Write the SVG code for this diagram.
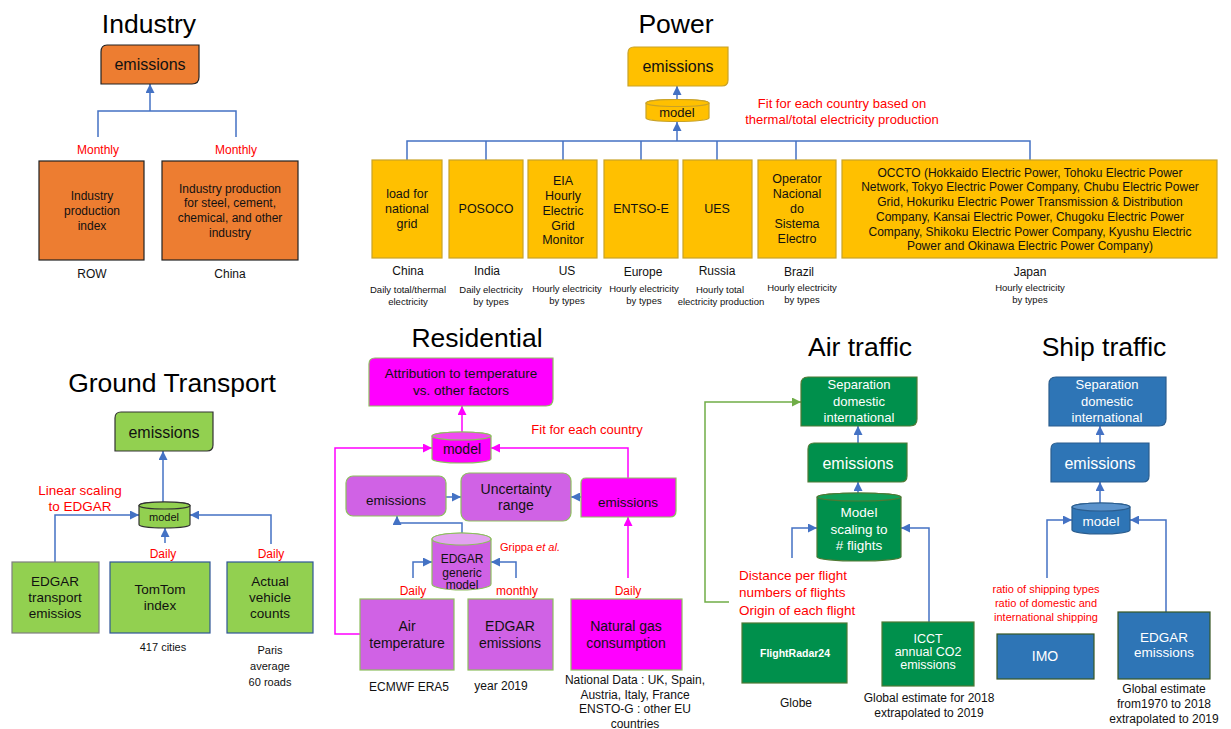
<svg xmlns="http://www.w3.org/2000/svg" width="1231" height="729" viewBox="0 0 1231 729">
<defs>
<marker id="ab" viewBox="0 0 10 10" refX="10" refY="5" markerWidth="9" markerHeight="9" markerUnits="userSpaceOnUse" orient="auto"><path d="M0,0 L10,5 L0,10 z" fill="#4472C4"/></marker>
<marker id="am" viewBox="0 0 10 10" refX="10" refY="5" markerWidth="9" markerHeight="9" markerUnits="userSpaceOnUse" orient="auto"><path d="M0,0 L10,5 L0,10 z" fill="#FF00FF"/></marker>
<marker id="ag" viewBox="0 0 10 10" refX="10" refY="5" markerWidth="9" markerHeight="9" markerUnits="userSpaceOnUse" orient="auto"><path d="M0,0 L10,5 L0,10 z" fill="#70AD47"/></marker>
</defs>
<style>
text{font-family:"Liberation Sans",Arial,Helvetica,sans-serif;text-anchor:middle;fill:#111}
.title{font-size:26.5px;fill:#000}
.red{fill:#FF0000}
.w{fill:#fff}
.c{stroke:#4472C4;stroke-width:1.5;fill:none}
.cm{stroke:#FF00FF;stroke-width:1.5;fill:none}
.cg{stroke:#70AD47;stroke-width:1.5;fill:none}
.ind{fill:#ED7D31;stroke:#222;stroke-width:1.2}
.pow{fill:#FFC000;stroke:#C9A227;stroke-width:1.2}
.gt{fill:#92D050;stroke:#333;stroke-width:1.2}
.gtb{fill:#92D050;stroke:#2F5597;stroke-width:1.2}
.gtg{fill:#92D050;stroke:#7F7F7F;stroke-width:1.2}
.vio{fill:#D062E5;stroke:#8DBF5E;stroke-width:1.2}
.mag{fill:#FF00FF;stroke:#8DBF5E;stroke-width:1.2}
.air{fill:#00904C;stroke:#4E7A34;stroke-width:1.2}
.shp{fill:#2E75B6;stroke:#2A5D8E;stroke-width:1.2}
.shpg{fill:#2E75B6;stroke:#385723;stroke-width:1.2}
.s16{font-size:16px}
.s14{font-size:14px}
.s135{font-size:13.5px}
.s13{font-size:13px}
.s12{font-size:12px}
.s125{font-size:12.5px}
.s11{font-size:11px}
.s95{font-size:9.5px}
</style>

<!-- Titles -->
<g id="titles">
<text class="title" x="149" y="33">Industry</text>
<text class="title" x="676" y="33">Power</text>
<text class="title" x="172" y="392">Ground Transport</text>
<text class="title" x="477" y="347">Residential</text>
<text class="title" x="860" y="356">Air traffic</text>
<text class="title" x="1104" y="356">Ship traffic</text>
</g>

<g id="connectors">
<!-- Industry -->
<path class="c" d="M98,137 V111 H236 V137"/>
<path class="c" d="M150,111 V84" marker-end="url(#ab)"/>
<!-- Power -->
<path class="c" d="M407,160 V141 H1030 V160"/>
<path class="c" d="M486,160 V141 M563,160 V141 M641,160 V141 M717,160 V141 M796,160 V141"/>
<path class="c" d="M677,141 V122" marker-end="url(#ab)"/>
<path class="c" d="M677,100 V86" marker-end="url(#ab)"/>
<!-- Ground transport -->
<path class="c" d="M163,502 V451" marker-end="url(#ab)"/>
<path class="c" d="M55,562 V515 H139" marker-end="url(#ab)"/>
<path class="c" d="M165,543 V528" marker-end="url(#ab)"/>
<path class="c" d="M271,544 V515 H190" marker-end="url(#ab)"/>
<!-- Residential -->
<path class="cm" d="M462,432 V406" marker-end="url(#am)"/>
<path class="cm" d="M360,634 H335 V448 H432" marker-end="url(#am)"/>
<path class="cm" d="M628,478 V448 H491" marker-end="url(#am)"/>
<path class="cm" d="M628,578 V517" marker-end="url(#am)"/>
<path class="c" d="M446,497 H461" marker-end="url(#ab)"/>
<path class="c" d="M581,497 H571" marker-end="url(#ab)"/>
<path class="c" d="M462,533 V523 H397 V516" marker-end="url(#ab)"/>
<path class="c" d="M413,578 V562 H432" marker-end="url(#ab)"/>
<path class="c" d="M516,578 V562 H491" marker-end="url(#ab)"/>
<!-- Air -->
<path class="c" d="M858,443 V426" marker-end="url(#ab)"/>
<path class="c" d="M858,494 V482" marker-end="url(#ab)"/>
<path class="c" d="M792,558 V528 H817" marker-end="url(#ab)"/>
<path class="c" d="M929,622 V528 H901" marker-end="url(#ab)"/>
<path class="cg" d="M729,602 H705 V402 H801" marker-end="url(#ag)"/>
<!-- Ship -->
<path class="c" d="M1100,443 V426" marker-end="url(#ab)"/>
<path class="c" d="M1100,503 V482" marker-end="url(#ab)"/>
<path class="c" d="M1047,578 V520 H1072" marker-end="url(#ab)"/>
<path class="c" d="M1166,612 V520 H1130" marker-end="url(#ab)"/>
</g>

<!-- ===== Industry ===== -->
<g id="ind-emissions">
<path class="ind" d="M107,45 H199 V77 Q199,84 192,84 H101 V52 Q101,45 107,45 Z"/>
<text class="s16" x="150" y="70">emissions</text>
</g>
<g id="ind-row">
<rect class="ind" x="39" y="161" width="105" height="99"/>
<text class="s12" x="92" y="200">Industry</text>
<text class="s12" x="92" y="215">production</text>
<text class="s12" x="92" y="230">index</text>
</g>
<g id="ind-china">
<rect class="ind" x="162" y="161" width="136" height="99"/>
<text class="s12" x="230" y="193">Industry production</text>
<text class="s12" x="230" y="207">for steel, cement,</text>
<text class="s12" x="230" y="222">chemical, and other</text>
<text class="s12" x="230" y="237">industry</text>
</g>
<g id="ind-labels">
<text class="s12 red" x="98" y="154">Monthly</text>
<text class="s12 red" x="236" y="154">Monthly</text>
<text class="s12" x="92" y="278">ROW</text>
<text class="s12" x="230" y="278">China</text>
</g>

<!-- ===== Power ===== -->
<g id="pow-emissions">
<path class="pow" d="M634,47 H728 V80 Q728,86 722,86 H628 V53 Q628,47 634,47 Z"/>
<text class="s16" x="678" y="72">emissions</text>
</g>
<g id="pow-model">
<path class="pow" d="M646,103 A31.5,3.5 0 0 1 709,103 V118 A31.5,3.5 0 0 1 646,118 Z"/>
<ellipse class="pow" cx="677.5" cy="103" rx="31.5" ry="3.5"/>
<text class="s13" x="677" y="117">model</text>
</g>
<g id="pow-china">
<rect class="pow" x="372" y="160" width="70" height="98"/>
<text class="s125" x="407" y="198">load for</text>
<text class="s125" x="407" y="213">national</text>
<text class="s125" x="407" y="228">grid</text>
</g>
<g id="pow-india">
<rect class="pow" x="449" y="160" width="74" height="98"/>
<text class="s125" x="486" y="213">POSOCO</text>
</g>
<g id="pow-us">
<rect class="pow" x="528" y="160" width="69" height="98"/>
<text class="s125" x="563" y="185">EIA</text>
<text class="s125" x="563" y="200">Hourly</text>
<text class="s125" x="563" y="215">Electric</text>
<text class="s125" x="563" y="230">Grid</text>
<text class="s125" x="563" y="244">Monitor</text>
</g>
<g id="pow-europe">
<rect class="pow" x="604" y="160" width="74" height="98"/>
<text class="s125" x="641" y="213">ENTSO-E</text>
</g>
<g id="pow-russia">
<rect class="pow" x="683" y="160" width="69" height="98"/>
<text class="s125" x="717" y="213">UES</text>
</g>
<g id="pow-brazil">
<rect class="pow" x="758" y="160" width="78" height="98"/>
<text class="s125" x="797" y="183">Operator</text>
<text class="s125" x="797" y="198">Nacional</text>
<text class="s125" x="797" y="213">do</text>
<text class="s125" x="797" y="228">Sistema</text>
<text class="s125" x="797" y="243">Electro</text>
</g>
<g id="pow-japan">
<rect class="pow" x="842" y="160" width="375" height="98"/>
<text class="s12" x="1030" y="177">OCCTO (Hokkaido Electric Power, Tohoku Electric Power</text>
<text class="s12" x="1030" y="191">Network, Tokyo Electric Power Company, Chubu Electric Power</text>
<text class="s12" x="1030" y="206">Grid, Hokuriku Electric Power Transmission &amp; Distribution</text>
<text class="s12" x="1030" y="221">Company, Kansai Electric Power, Chugoku Electric Power</text>
<text class="s12" x="1030" y="236">Company, Shikoku Electric Power Company, Kyushu Electric</text>
<text class="s12" x="1030" y="250">Power and Okinawa Electric Power Company)</text>
</g>
<g id="pow-labels">
<text class="s13 red" x="842" y="108">Fit for each country based on</text>
<text class="s13 red" x="842" y="124">thermal/total electricity production</text>
<text class="s12" x="408" y="275">China</text>
<text class="s95" x="408" y="293">Daily total/thermal</text>
<text class="s95" x="408" y="305">electricity</text>
<text class="s12" x="487" y="275">India</text>
<text class="s95" x="491" y="293">Daily electricity</text>
<text class="s95" x="491" y="305">by types</text>
<text class="s12" x="567" y="275">US</text>
<text class="s95" x="567" y="292">Hourly electricity</text>
<text class="s95" x="567" y="304">by types</text>
<text class="s12" x="643" y="276">Europe</text>
<text class="s95" x="644" y="292">Hourly electricity</text>
<text class="s95" x="644" y="304">by types</text>
<text class="s12" x="717" y="275">Russia</text>
<text class="s95" x="720" y="293">Hourly total</text>
<text class="s95" x="721" y="305">electricity production</text>
<text class="s12" x="799" y="276">Brazil</text>
<text class="s95" x="802" y="291">Hourly electricity</text>
<text class="s95" x="802" y="303">by types</text>
<text class="s12" x="1030" y="276">Japan</text>
<text class="s95" x="1030" y="291">Hourly electricity</text>
<text class="s95" x="1030" y="303">by types</text>
</g>

<!-- ===== Ground Transport ===== -->
<g id="gt-emissions">
<path class="gt" d="M121,412 H213 V445 Q213,451 207,451 H115 V418 Q115,412 121,412 Z"/>
<text class="s16" x="164" y="438">emissions</text>
</g>
<g id="gt-model">
<path class="gt" d="M139,505.5 A25.5,3.5 0 0 1 190,505.5 V524.5 A25.5,3.5 0 0 1 139,524.5 Z"/>
<ellipse class="gt" cx="164.5" cy="505.5" rx="25.5" ry="3.5"/>
<text class="s11" x="164" y="521">model</text>
</g>
<g id="gt-edgar">
<rect class="gtg" x="12" y="562" width="87" height="71"/>
<text class="s135" x="55" y="586">EDGAR</text>
<text class="s135" x="55" y="602">transport</text>
<text class="s135" x="55" y="618">emissios</text>
</g>
<g id="gt-tomtom">
<rect class="gtb" x="110" y="562" width="100" height="71"/>
<text class="s135" x="160" y="594">TomTom</text>
<text class="s135" x="160" y="610">index</text>
</g>
<g id="gt-actual">
<rect class="gtb" x="227" y="562" width="86" height="71"/>
<text class="s135" x="270" y="586">Actual</text>
<text class="s135" x="270" y="602">vehicle</text>
<text class="s135" x="270" y="618">counts</text>
</g>
<g id="gt-labels">
<text class="s135 red" x="80" y="495">Linear scaling</text>
<text class="s135 red" x="80" y="511">to EDGAR</text>
<text class="s12 red" x="163" y="558">Daily</text>
<text class="s12 red" x="271" y="558">Daily</text>
<text class="s11" x="163" y="651">417 cities</text>
<text class="s11" x="270" y="654">Paris</text>
<text class="s11" x="270" y="670">average</text>
<text class="s11" x="270" y="686">60 roads</text>
</g>

<!-- ===== Residential ===== -->
<g id="res-attribution">
<path class="mag" d="M375,358 H553 V399 Q553,406 546,406 H369 V364 Q369,358 375,358 Z"/>
<text class="s135" x="461" y="378">Attribution to temperature</text>
<text class="s135" x="461" y="395">vs. other factors</text>
</g>
<g id="res-model">
<path class="mag" d="M432,436 A29.5,4 0 0 1 491,436 V459 A29.5,4 0 0 1 432,459 Z"/>
<ellipse fill="#F04BF0" stroke="#8DBF5E" stroke-width="1.2" cx="461.5" cy="436" rx="29.5" ry="4"/>
<text class="s14" x="462" y="454">model</text>
</g>
<g id="res-emissions-left">
<rect class="vio" x="346" y="476" width="100" height="40" rx="7"/>
<text class="s135" x="396" y="505">emissions</text>
</g>
<g id="res-uncertainty">
<rect class="vio" x="461" y="473" width="110" height="48" rx="8"/>
<text class="s14" x="516" y="494">Uncertainty</text>
<text class="s14" x="516" y="510">range</text>
</g>
<g id="res-emissions-right">
<path class="mag" d="M586,478 H676 V511 Q676,517 670,517 H581 V483 Q581,478 586,478 Z"/>
<text class="s135" x="628" y="507">emissions</text>
</g>
<g id="res-edgar-model">
<path class="vio" d="M432,539 A29.5,6 0 0 1 491,539 V584 A29.5,6 0 0 1 432,584 Z"/>
<ellipse fill="#E3A3F0" stroke="#8DBF5E" stroke-width="1.2" cx="461.5" cy="539" rx="29.5" ry="6"/>
<text class="s12" x="462" y="563">EDGAR</text>
<text class="s12" x="462" y="577">generic</text>
<text class="s12" x="462" y="589">model</text>
</g>
<g id="res-air">
<rect class="vio" x="360" y="599" width="94" height="71"/>
<text class="s14" x="407" y="631">Air</text>
<text class="s14" x="407" y="648">temperature</text>
</g>
<g id="res-edgar">
<rect class="vio" x="468" y="599" width="85" height="71"/>
<text class="s14" x="510" y="631">EDGAR</text>
<text class="s14" x="510" y="648">emissions</text>
</g>
<g id="res-gas">
<rect class="mag" x="571" y="599" width="111" height="71"/>
<text class="s14" x="626" y="631">Natural gas</text>
<text class="s14" x="626" y="648">consumption</text>
</g>
<g id="res-labels">
<text class="s13 red" x="587" y="434">Fit for each country</text>
<text class="s11 red" x="530" y="551">Grippa <tspan font-style="italic">et al.</tspan></text>
<text class="s12 red" x="413" y="595">Daily</text>
<text class="s12 red" x="517" y="595">monthly</text>
<text class="s12 red" x="628" y="595">Daily</text>
<text class="s12" x="409" y="691">ECMWF ERA5</text>
<text class="s12" x="501" y="690">year 2019</text>
<text class="s12" x="635" y="684">National Data : UK, Spain,</text>
<text class="s12" x="635" y="699">Austria, Italy, France</text>
<text class="s12" x="635" y="713">ENSTO-G : other EU</text>
<text class="s12" x="635" y="728">countries</text>
</g>

<!-- ===== Air traffic ===== -->
<g id="air-separation">
<path class="air" d="M808,377 H917 V419 Q917,426 910,426 H801 V384 Q801,377 808,377 Z"/>
<text class="s13 w" x="859" y="389">Separation</text>
<text class="s13 w" x="859" y="406">domestic</text>
<text class="s13 w" x="859" y="422">international</text>
</g>
<g id="air-emissions">
<path class="air" d="M814,443 H907 V476 Q907,482 901,482 H808 V449 Q808,443 814,443 Z"/>
<text class="s16 w" x="858" y="469">emissions</text>
</g>
<g id="air-model">
<path class="air" d="M817,497 A42,4 0 0 1 901,497 V557 A42,4 0 0 1 817,557 Z"/>
<ellipse fill="#10A058" stroke="#4E7A34" stroke-width="1.2" cx="859" cy="497" rx="42" ry="4"/>
<text class="s135 w" x="859" y="517">Model</text>
<text class="s135 w" x="859" y="534">scaling to</text>
<text class="s135 w" x="859" y="550"># flights</text>
</g>
<g id="air-fr24">
<rect class="air" x="742" y="623" width="105" height="60"/>
<text class="w" x="795" y="657" font-size="10.5" font-weight="bold">FlightRadar24</text>
</g>
<g id="air-icct">
<rect class="air" x="882" y="622" width="92" height="64"/>
<text class="w" x="928" y="643" font-size="12.5">ICCT</text>
<text class="w" x="928" y="656" font-size="12.5">annual CO2</text>
<text class="w" x="928" y="669" font-size="12.5">emissions</text>
</g>
<g id="air-labels">
<text class="s135 red" x="739" y="580" style="text-anchor:start">Distance per flight</text>
<text class="s135 red" x="739" y="597" style="text-anchor:start">numbers of flights</text>
<text class="s135 red" x="739" y="615" style="text-anchor:start">Origin of each flight</text>
<text class="s12" x="796" y="707">Globe</text>
<text class="s12" x="929" y="702">Global estimate for 2018</text>
<text class="s12" x="929" y="717">extrapolated  to 2019</text>
</g>

<!-- ===== Ship traffic ===== -->
<g id="ship-separation">
<path class="shp" d="M1056,377 H1166 V419 Q1166,426 1159,426 H1049 V384 Q1049,377 1056,377 Z"/>
<text class="s13 w" x="1107" y="389">Separation</text>
<text class="s13 w" x="1107" y="406">domestic</text>
<text class="s13 w" x="1107" y="422">international</text>
</g>
<g id="ship-emissions">
<path class="shp" d="M1057,443 H1149 V476 Q1149,482 1143,482 H1051 V449 Q1051,443 1057,443 Z"/>
<text class="s16 w" x="1100" y="469">emissions</text>
</g>
<g id="ship-model">
<path class="shp" d="M1072,507 A29,4 0 0 1 1130,507 V530 A29,4 0 0 1 1072,530 Z"/>
<ellipse fill="#5B93CC" stroke="#2A5D8E" stroke-width="1.2" cx="1101" cy="507" rx="29" ry="4"/>
<text class="s135 w" x="1101" y="526">model</text>
</g>
<g id="ship-imo">
<rect class="shpg" x="997" y="634" width="97" height="45"/>
<text class="s14 w" x="1045" y="661">IMO</text>
</g>
<g id="ship-edgar">
<rect class="shpg" x="1118" y="612" width="92" height="67"/>
<text class="s135 w" x="1164" y="642">EDGAR</text>
<text class="s135 w" x="1164" y="657">emissions</text>
</g>
<g id="ship-labels">
<text class="s11 red" x="1046" y="593">ratio of shipping types</text>
<text class="s11 red" x="1046" y="607">ratio of domestic and</text>
<text class="s11 red" x="1046" y="621">international shipping</text>
<text class="s12" x="1164" y="693">Global estimate</text>
<text class="s12" x="1164" y="708">from1970 to 2018</text>
<text class="s12" x="1164" y="723">extrapolated  to 2019</text>
</g>
</svg>
